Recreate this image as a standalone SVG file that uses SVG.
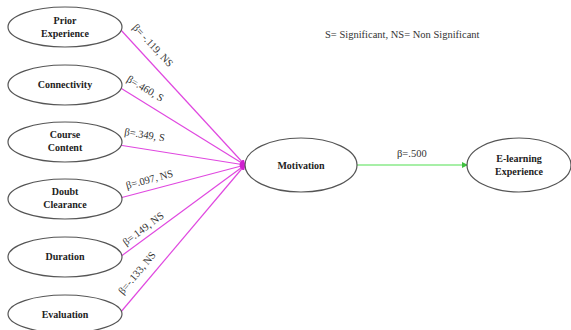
<svg xmlns="http://www.w3.org/2000/svg" width="571" height="330" viewBox="0 0 571 330">
<style>
.node ellipse{fill:#fff;stroke:#555;stroke-width:1.2}
.node text{font-family:"Liberation Serif",serif;font-weight:bold;font-size:10px;fill:#222;text-anchor:middle}
.lbl{font-family:"Liberation Serif",serif;font-size:10.5px;fill:#333}
.mag{stroke:#e048e0;stroke-width:1.2;fill:none}
.grn{stroke:#50e050;stroke-width:1.2;fill:none}
</style>
<defs>
<marker id="am" markerWidth="6" markerHeight="6" refX="5" refY="3" orient="auto" markerUnits="userSpaceOnUse"><path d="M0,0 L6,3 L0,6 Z" fill="#d020d0"/></marker>
<marker id="ag" markerWidth="6" markerHeight="6" refX="5" refY="3" orient="auto" markerUnits="userSpaceOnUse"><path d="M0,0 L6,3 L0,6 Z" fill="#40c040"/></marker>
</defs>
<rect width="571" height="330" fill="#fff"/>
<g id="connectors">
<line class="mag" x1="120" y1="29" x2="245" y2="165" marker-end="url(#am)"/>
<line class="mag" x1="119" y1="87" x2="245" y2="165" marker-end="url(#am)"/>
<line class="mag" x1="119" y1="145" x2="245" y2="165" marker-end="url(#am)"/>
<line class="mag" x1="120" y1="198" x2="245" y2="165" marker-end="url(#am)"/>
<line class="mag" x1="120" y1="257" x2="245" y2="165" marker-end="url(#am)"/>
<line class="mag" x1="120" y1="313" x2="245" y2="165" marker-end="url(#am)"/>
<line class="grn" x1="357" y1="165" x2="467" y2="165" marker-end="url(#ag)"/>
<text class="lbl" transform="translate(132,28) rotate(47)">β= -.119, NS</text>
<text class="lbl" transform="translate(126,81) rotate(31)">β=.460, S</text>
<text class="lbl" transform="translate(124,135) rotate(9)">β=.349, S</text>
<text class="lbl" transform="translate(127,189) rotate(-15)">β=.097, NS</text>
<text class="lbl" transform="translate(126,246) rotate(-37)">β=.149, NS</text>
<text class="lbl" transform="translate(123,295) rotate(-50)">β=-.133, NS</text>
<text class="lbl" x="397" y="157">β=.500</text>
</g>
<text class="lbl" x="325" y="38">S= Significant, NS= Non Significant</text>
<g id="prior" class="node"><ellipse cx="65" cy="27" rx="57" ry="20"/><text x="65" y="24">Prior</text><text x="65" y="37">Experience</text></g>
<g id="connectivity" class="node"><ellipse cx="65" cy="85" rx="57" ry="20"/><text x="65" y="88">Connectivity</text></g>
<g id="course" class="node"><ellipse cx="65" cy="142" rx="57" ry="20"/><text x="65" y="138">Course</text><text x="65" y="151">Content</text></g>
<g id="doubt" class="node"><ellipse cx="65" cy="199" rx="57" ry="20"/><text x="65" y="195">Doubt</text><text x="65" y="208">Clearance</text></g>
<g id="duration" class="node"><ellipse cx="65" cy="257" rx="57" ry="20"/><text x="65" y="260">Duration</text></g>
<g id="evaluation" class="node"><ellipse cx="65" cy="314" rx="57" ry="19"/><text x="65" y="318">Evaluation</text></g>
<g id="motivation" class="node"><ellipse cx="301" cy="165" rx="56" ry="27"/><text x="301" y="169">Motivation</text></g>
<g id="elearning" class="node"><ellipse cx="519" cy="165" rx="52" ry="27"/><text x="519" y="162">E-learning</text><text x="519" y="175">Experience</text></g>
</svg>
